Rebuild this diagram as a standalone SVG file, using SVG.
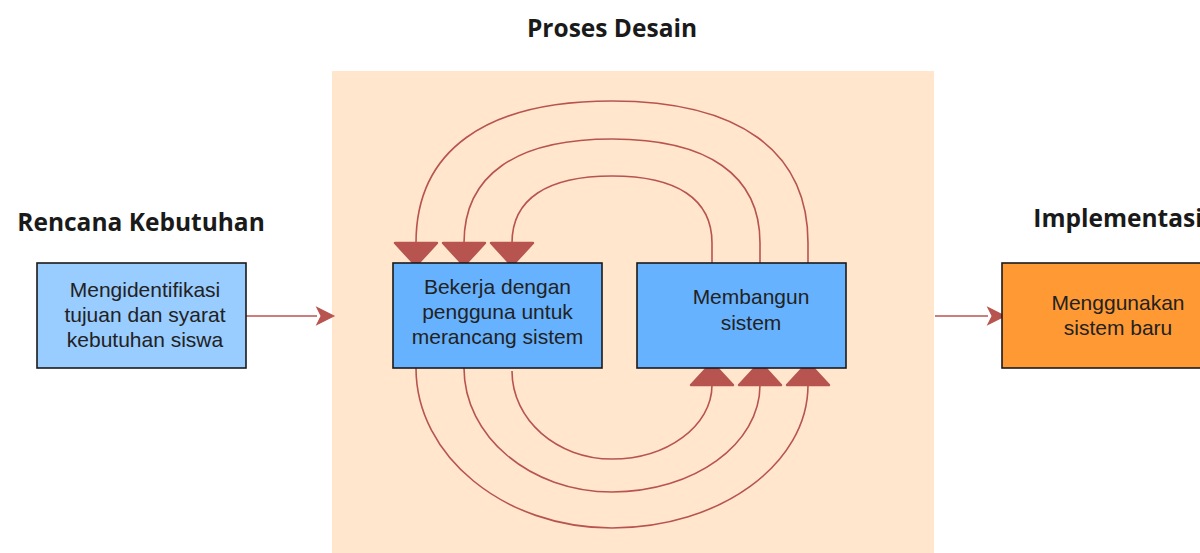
<svg xmlns="http://www.w3.org/2000/svg" width="1200" height="553" viewBox="0 0 1200 553">
<defs>
<style>
.title{font-family:"Open Sans","Liberation Sans",sans-serif;font-weight:700;font-size:24.5px;fill:#1a1a1a;text-anchor:middle}
.lbl{font-family:"Liberation Sans",Arial,sans-serif;font-size:21px;fill:#222;text-anchor:middle}
.box{stroke:#1a1a1a;stroke-width:1.6}
.flow{fill:none;stroke:#b85450;stroke-width:1.6}
</style>
<marker id="big" markerUnits="userSpaceOnUse" orient="auto" refX="0" refY="0" markerWidth="60" markerHeight="60" viewBox="-5 -25 30 50" overflow="visible">
<path d="M0,-17.5 L19,0 L0,17.5 Z" fill="#b85450" stroke="#b85450" stroke-width="2" stroke-linejoin="round"/>
</marker>
<marker id="small" markerUnits="userSpaceOnUse" orient="auto" refX="0" refY="0" markerWidth="30" markerHeight="30" viewBox="-5 -10 25 20" overflow="visible">
<path d="M0,-7 L14,0 L0,7 L3.5,0 Z" fill="#b85450" stroke="#b85450" stroke-width="1" stroke-linejoin="miter"/>
</marker>
</defs>
<rect width="1200" height="553" fill="#ffffff"/>
<g id="bg-proses">
<rect x="332" y="71" width="602" height="490" fill="#ffe6cc"/>
</g>
<g id="titles">
<text class="title" x="612" y="37">Proses Desain</text>
<text class="title" x="141" y="231">Rencana Kebutuhan</text>
<text class="title" x="1118" y="227">Implementasi</text>
</g>
<g id="connectors">
<path class="flow" d="M246,316 L317,316" marker-end="url(#small)"/>
<path class="flow" d="M935,316 L988,316" marker-end="url(#small)"/>
<path class="flow" d="M808,263 L808,243 C808,151 739,101 612,101 C485,101 416,151 416,243" marker-end="url(#big)"/>
<path class="flow" d="M760,263 L760,243 C760,175 708,139 612,139 C516,139 464,175 464,243" marker-end="url(#big)"/>
<path class="flow" d="M712,263 L712,243 C712,199 677,176 612,176 C547,176 512,199 512,243" marker-end="url(#big)"/>
<path class="flow" d="M416,368 C416,456 504,528 612,528 C720,528 808,464 808,385" marker-end="url(#big)"/>
<path class="flow" d="M464,368 C464,436 530,492 612,492 C694,492 760,444 760,385" marker-end="url(#big)"/>
<path class="flow" d="M512,371 C512,420 557,459 612,459 C667,459 712,426 712,385" marker-end="url(#big)"/>
</g>
<g id="node-rencana">
<rect class="box" x="37" y="263" width="209" height="105" fill="#99ccff"/>
<text class="lbl" x="145" y="297">Mengidentifikasi</text>
<text class="lbl" x="145" y="322">tujuan dan syarat</text>
<text class="lbl" x="145" y="347">kebutuhan siswa</text>
</g>
<g id="node-bekerja">
<rect class="box" x="393" y="263" width="209" height="105" fill="#66b2ff"/>
<text class="lbl" x="497.5" y="294">Bekerja dengan</text>
<text class="lbl" x="497.5" y="319">pengguna untuk</text>
<text class="lbl" x="497.5" y="344">merancang sistem</text>
</g>
<g id="node-membangun">
<rect class="box" x="637" y="263" width="209" height="105" fill="#66b2ff"/>
<text class="lbl" x="751" y="304">Membangun</text>
<text class="lbl" x="751" y="330">sistem</text>
</g>
<g id="node-menggunakan">
<rect class="box" x="1002" y="263" width="209" height="105" fill="#ff9933"/>
<text class="lbl" x="1118" y="310">Menggunakan</text>
<text class="lbl" x="1118" y="335">sistem baru</text>
</g>
</svg>
